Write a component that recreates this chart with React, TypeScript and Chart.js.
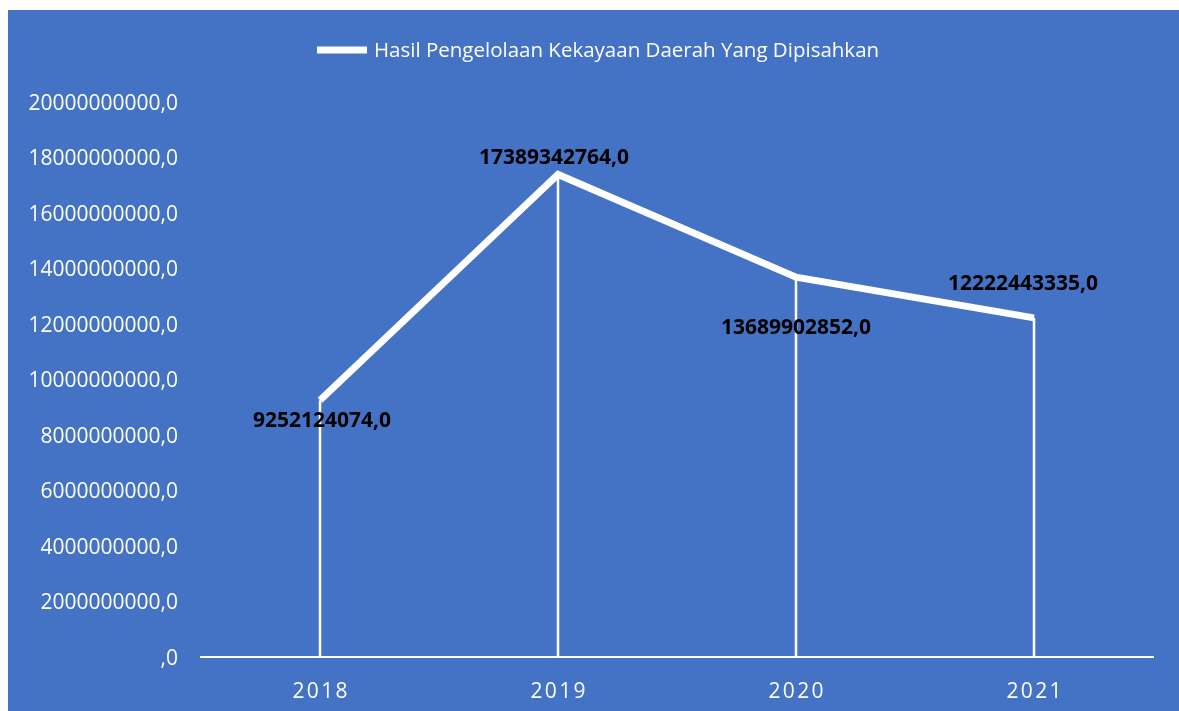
import React, { useEffect, useRef } from "react";
import { Chart, registerables } from "chart.js";

Chart.register(...registerables);

const categories = ["2018", "2019", "2020", "2021"];
const seriesName = "Hasil Pengelolaan Kekayaan Daerah Yang Dipisahkan";
const values = [9252124074.0, 17389342764.0, 13689902852.0, 12222443335.0];
const yTicks = [0, 2e9, 4e9, 6e9, 8e9, 10e9, 12e9, 14e9, 16e9, 18e9, 20e9];
// label offsets (px) relative to each point: [dx, dy]
const labelOffsets: [number, number][] = [
  [2, 21],
  [-4, -16],
  [0, 51],
  [-11, -34],
];

const BG = "#4472C4";
const FONT = "'Open Sans', sans-serif";

const fmt = (v: number) => {
  if (v === 0) return ",0";
  return Math.round(v).toString() + ",0";
};

export default function App() {
  const ref = useRef<HTMLCanvasElement>(null);
  useEffect(() => {
    if (!ref.current) return;
    const bgPlugin = {
      id: "bg",
      beforeDraw(chart: any) {
        const ctx = chart.ctx;
        ctx.save();
        ctx.fillStyle = BG;
        ctx.fillRect(0, 0, chart.width, chart.height);
        ctx.restore();
      },
      beforeDatasetsDraw(chart: any) {
        const ctx = chart.ctx;
        const meta = chart.getDatasetMeta(0);
        const yBase = chart.scales.y.getPixelForValue(0);
        ctx.save();
        ctx.strokeStyle = "#FFFFFF";
        ctx.lineWidth = 2.5;
        meta.data.forEach((pt: any) => {
          ctx.beginPath();
          ctx.moveTo(pt.x, pt.y);
          ctx.lineTo(pt.x, yBase);
          ctx.stroke();
        });
        ctx.restore();
      },
      afterDatasetsDraw(chart: any) {
        const ctx = chart.ctx;
        const meta = chart.getDatasetMeta(0);
        ctx.save();
        ctx.fillStyle = "#000000";
        ctx.font = `bold 21px ${FONT}`;
        ctx.textAlign = "center";
        ctx.textBaseline = "middle";
        meta.data.forEach((pt: any, i: number) => {
          const [dx, dy] = labelOffsets[i];
          ctx.fillText(fmt(values[i]), pt.x + dx, pt.y + dy);
        });
        // x-axis category labels (letter-spaced)
        const xs = chart.scales.x;
        const yBase = chart.scales.y.getPixelForValue(0);
        ctx.fillStyle = "#FFFFFF";
        ctx.font = `21px ${FONT}`;
        try {
          (ctx as any).letterSpacing = "2.3px";
        } catch (e) {}
        categories.forEach((c, i) => {
          const x = xs.getPixelForValue(i);
          ctx.fillText(c, x + 1.15, yBase + 35);
        });
        try {
          (ctx as any).letterSpacing = "0px";
        } catch (e) {}
        // legend
        ctx.strokeStyle = "#FFFFFF";
        ctx.lineWidth = 7;
        ctx.beginPath();
        ctx.moveTo(309, 40);
        ctx.lineTo(359, 40);
        ctx.stroke();
        ctx.fillStyle = "#FFFFFF";
        ctx.font = `20.5px ${FONT}`;
        ctx.textAlign = "left";
        ctx.fillText(seriesName, 366, 41);
        ctx.restore();
      },
    };

    const chart = new Chart(ref.current, {
      type: "line",
      data: {
        labels: categories,
        datasets: [
          {
            label: seriesName,
            data: values,
            borderColor: "#FFFFFF",
            borderWidth: 7,
            borderCapStyle: "butt",
            borderJoinStyle: "miter",
            pointRadius: 0,
            tension: 0,
            fill: false,
          },
        ],
      },
      options: {
        animation: false,
        responsive: false,
        maintainAspectRatio: false,
        layout: { padding: { top: 92, right: 26, left: 0, bottom: 0 } },
        plugins: { legend: { display: false }, tooltip: { enabled: false } },
        scales: {
          x: {
            offset: true,
            grid: { display: true, color: "rgba(0,0,0,0)", drawOnChartArea: false, drawTicks: false },
            border: { display: true, color: "#FFFFFF", width: 2 },
            ticks: { display: false },
            afterFit(scale: any) {
              scale.height = 54;
            },
          },
          y: {
            min: 0,
            max: 20e9,
            afterBuildTicks(scale: any) {
              scale.ticks = yTicks.map((v) => ({ value: v }));
            },
            grid: { display: false, drawTicks: false },
            border: { display: false },
            ticks: {
              color: "#FFFFFF",
              font: { family: FONT, size: 21 },
              padding: 23,
              labelOffset: 2,
              callback: (v: any) => fmt(Number(v)),
            },
            afterFit(scale: any) {
              scale.width = 193;
            },
          },
        },
      } as any,
      plugins: [bgPlugin],
    });
    return () => chart.destroy();
  }, []);
  return (
    <div style={{ position: "fixed", left: 8, top: 10, width: 1171, height: 701 }}>
      <canvas ref={ref} width={1171} height={701} style={{ display: "block" }} />
    </div>
  );
}
